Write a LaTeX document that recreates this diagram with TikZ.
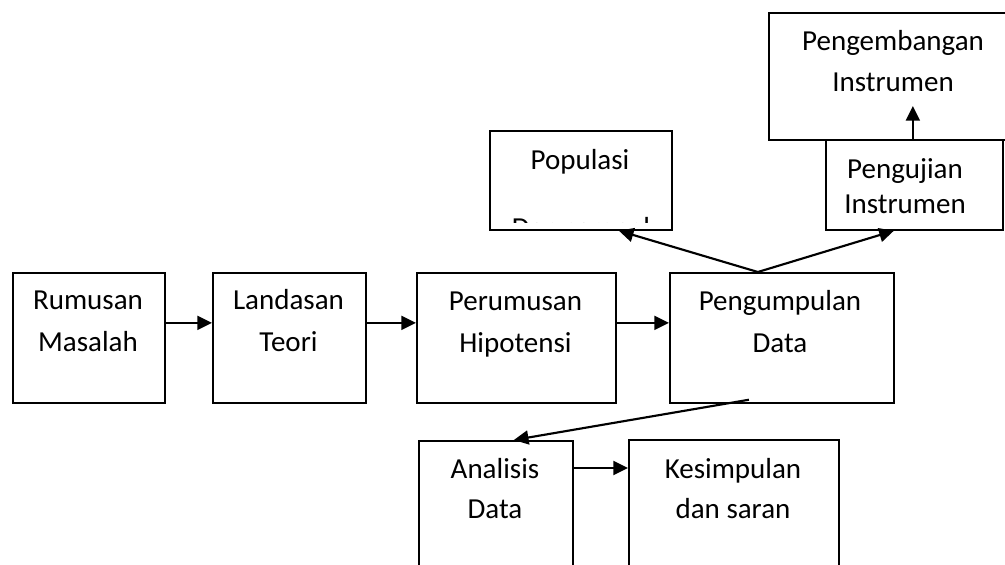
\documentclass[tikz,border=0pt]{standalone}
\usepackage{fontspec}
\setmainfont{Carlito}
\usetikzlibrary{arrows.meta}
\newcommand\boxlines[2][31.5pt]{\parbox[t]{8cm}{\centering\fontsize{21.75pt}{#1}\selectfont #2}}
\tikzset{
  bx/.style={draw, line width=1.3pt, inner sep=0pt, anchor=north west},
  tx/.style={inner sep=0pt, anchor=base},
  arr/.style={line width=1.6pt, -{Triangle[length=11pt,width=10.5pt]}}
}
\begin{document}
\begin{tikzpicture}[x=0.75pt,y=-0.75pt]
\useasboundingbox (0,0) rectangle (1005,564);
\clip (0,0) rectangle (1005,564);
% boxes
\node[bx, minimum width=114pt, minimum height=97.5pt] (r) at (12,272) {};
\node[bx, minimum width=114.75pt, minimum height=97.5pt] (l) at (212,272) {};
\node[bx, minimum width=149.25pt, minimum height=97.5pt] (p) at (416,272) {};
\node[bx, minimum width=168pt, minimum height=97.5pt] (g) at (669,272) {};
\node[bx, minimum width=115.5pt, minimum height=150pt] (a) at (418,440) {};
\node[bx, minimum width=157.5pt, minimum height=150pt] (k) at (628,439) {};
\node[bx, minimum width=136.5pt, minimum height=74.25pt] (pop) at (489,130) {};
\node[bx, minimum width=187.5pt, minimum height=95.25pt] (dev) at (768,12) {};
\node[bx, minimum width=132.75pt, minimum height=67.5pt] (uji) at (825,139) {};
% texts
\node[tx] (rt) at (88,309) {\boxlines{Rumusan\\Masalah}};
\node[tx] (lt) at (288.5,309) {\boxlines{Landasan\\Teori}};
\node[tx] (pt) at (515.5,310) {\boxlines{Perumusan\\Hipotensi}};
\node[tx] (gt) at (780,310) {\boxlines{Pengumpulan\\Data}};
\node[tx] (at) at (495,478) {\boxlines[30pt]{Analisis\\Data}};
\node[tx] (kt) at (733,478) {\boxlines[30pt]{Kesimpulan\\dan saran}};
\node[tx] (popt) at (580,169) {\boxlines{Populasi}};
\begin{scope}
  \clip (pop.north west) rectangle ([yshift=6pt]pop.south east);
  \node[tx] (popt2) at (581,237) {\boxlines{Dan sampel}};
\end{scope}
\node[tx] (devt) at (893,50) {\boxlines[30.75pt]{Pengembangan\\Instrumen}};
\node[tx] (ujit) at (905,178) {\boxlines[26.25pt]{Pengujian\\Instrumen}};
% connectors
\coordinate (o1) at ([yshift=11.25pt]r.east);
\coordinate (o2) at ([yshift=11.25pt]l.east);
\coordinate (o3) at ([yshift=11.25pt]p.east);
\draw[arr] (o1) -- (o1 -| l.west);
\draw[arr] (o2) -- (o2 -| p.west);
\draw[arr] (o3) -- (o3 -| g.west);
\coordinate (gtop) at ([xshift=-18pt]g.north);
\draw[arr] (gtop) -- ([xshift=28.5pt]pop.south);
\draw[arr] (gtop) -- ([xshift=-15.375pt]uji.south);
\coordinate (devtip) at ([xshift=-1.125pt,yshift=24.75pt]uji.north);
\draw[arr] ([xshift=-1.125pt]uji.north) -- (devtip);
\draw[arr] ([xshift=-24.75pt,yshift=3pt]g.south) -- ([xshift=13.5pt]a.north);
\coordinate (o4) at ([yshift=-21pt]a.north east);
\draw[arr] (o4) -- (o4 -| k.west);
\end{tikzpicture}
\end{document}
